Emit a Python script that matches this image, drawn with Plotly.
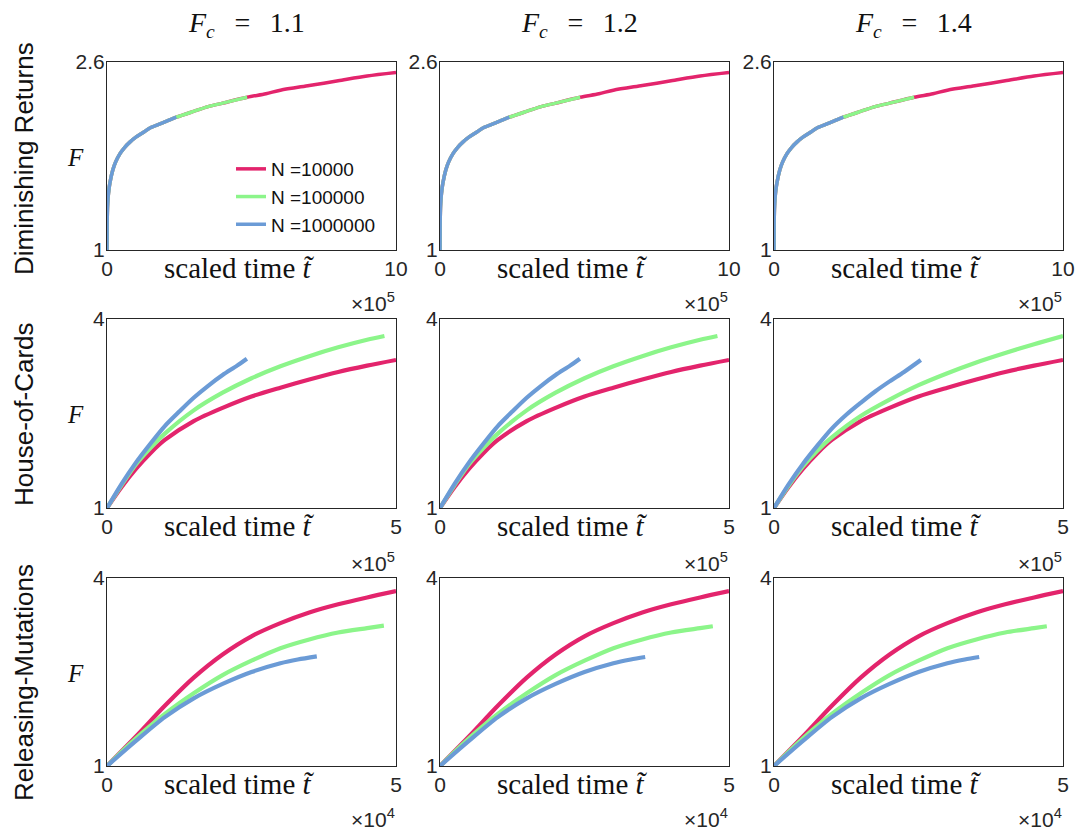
import plotly.graph_objects as go

# ---------------- data (scaled time in units of the axis exponent) ----------------
FC_LABELS = ["1.1", "1.2", "1.4"]
ROW_NAMES = ["Diminishing Returns", "House-of-Cards", "Releasing-Mutations"]
SERIES_NAMES = ["N =10000", "N =100000", "N =1000000"]
X_MAX = [10, 5, 5]
Y_MAX = [2.6, 4, 4]
X_TICKTEXT = [["0", "10"], ["0", "5"], ["0", "5"]]
Y_TICKTEXT = [["1", "2.6"], ["1", "4"], ["1", "4"]]
X_EXPONENT = ["5", "5", "4"]

# Diminishing Returns (same in all three columns)
DR_T_N1 = [0, 0.005, 0.02, 0.05, 0.1, 0.2, 0.3, 0.45, 0.6, 0.8, 1.0, 1.25, 1.5, 2.0, 2.4, 3.0, 3.5, 4.0, 4.85, 5.5, 6.0, 7.0, 8.0, 9.0, 10.0]
DR_F_N1 = [1.0, 1.22, 1.38, 1.48, 1.57, 1.68, 1.75, 1.82, 1.87, 1.92, 1.96, 2.00, 2.04, 2.09, 2.13, 2.18, 2.22, 2.25, 2.30, 2.33, 2.36, 2.40, 2.44, 2.48, 2.51]
DR_T_N2 = [0, 0.005, 0.02, 0.05, 0.1, 0.2, 0.3, 0.45, 0.6, 0.8, 1.0, 1.25, 1.5, 2.0, 2.4, 3.0, 3.5, 4.0, 4.85]
DR_F_N2 = [1.0, 1.22, 1.38, 1.48, 1.57, 1.68, 1.75, 1.82, 1.87, 1.92, 1.96, 2.00, 2.04, 2.09, 2.13, 2.18, 2.22, 2.25, 2.30]
DR_T_N3 = [0, 0.005, 0.02, 0.05, 0.1, 0.2, 0.3, 0.45, 0.6, 0.8, 1.0, 1.25, 1.5, 2.0, 2.4]
DR_F_N3 = [1.0, 1.22, 1.38, 1.48, 1.57, 1.68, 1.75, 1.82, 1.87, 1.92, 1.96, 2.00, 2.04, 2.09, 2.13]

# House-of-Cards, columns 1 and 2
HC_T_N1 = [0, 0.25, 0.5, 0.75, 1.0, 1.5, 2.0, 2.5, 3.0, 3.5, 4.0, 4.5, 5.0]
HC_F_N1 = [1.0, 1.33, 1.62, 1.87, 2.08, 2.38, 2.59, 2.77, 2.91, 3.04, 3.16, 3.26, 3.35]
HC_T_N2 = [0, 0.25, 0.5, 0.75, 1.0, 1.5, 2.0, 2.5, 3.0, 3.5, 4.0, 4.5, 4.8]
HC_F_N2 = [1.0, 1.36, 1.69, 1.95, 2.18, 2.55, 2.83, 3.06, 3.25, 3.41, 3.55, 3.67, 3.73]
HC_T_N3 = [0, 0.25, 0.5, 0.75, 1.0, 1.25, 1.5, 1.75, 2.0, 2.25, 2.42]
HC_F_N3 = [1.0, 1.38, 1.72, 2.02, 2.30, 2.53, 2.75, 2.94, 3.11, 3.26, 3.37]
# House-of-Cards, column 3
HC3_T_N2 = [0, 0.25, 0.5, 0.75, 1.0, 1.5, 2.0, 2.5, 3.0, 3.5, 4.0, 4.5, 5.0]
HC3_F_N2 = [1.0, 1.35, 1.66, 1.91, 2.12, 2.46, 2.72, 2.95, 3.14, 3.31, 3.46, 3.60, 3.73]
HC3_T_N3 = [0, 0.25, 0.5, 0.75, 1.0, 1.25, 1.5, 1.75, 2.0, 2.25, 2.54]
HC3_F_N3 = [1.0, 1.37, 1.70, 1.99, 2.26, 2.48, 2.67, 2.85, 3.01, 3.16, 3.35]

# Releasing-Mutations, column 1
RM_T_N1 = [0, 0.5, 1.0, 1.5, 2.0, 2.5, 3.0, 3.5, 4.0, 4.5, 5.0]
RM_F_N1 = [1.0, 1.47, 1.96, 2.41, 2.78, 3.07, 3.28, 3.45, 3.58, 3.69, 3.79]
RM_T_N2 = [0, 0.5, 1.0, 1.5, 2.0, 2.5, 3.0, 3.5, 4.0, 4.5, 4.79]
RM_F_N2 = [1.0, 1.44, 1.83, 2.16, 2.45, 2.68, 2.88, 3.02, 3.13, 3.20, 3.24]
RM_T_N3 = [0, 0.5, 1.0, 1.5, 2.0, 2.5, 3.0, 3.3, 3.63]
RM_F_N3 = [1.0, 1.40, 1.78, 2.08, 2.31, 2.50, 2.64, 2.70, 2.75]
# Releasing-Mutations, columns 2 and 3
RM23_T_N2 = [0, 0.5, 1.0, 1.5, 2.0, 2.5, 3.0, 3.5, 4.0, 4.5, 4.72]
RM23_F_N2 = [1.0, 1.44, 1.83, 2.16, 2.45, 2.68, 2.88, 3.02, 3.13, 3.20, 3.23]
RM23_T_N3 = [0, 0.5, 1.0, 1.5, 2.0, 2.5, 3.0, 3.3, 3.55]
RM23_F_N3 = [1.0, 1.40, 1.78, 2.08, 2.31, 2.50, 2.64, 2.70, 2.74]

# ---------------- styling / layout ----------------
COLORS = ["#E3246C", "#8CF58A", "#6B9BD6"]
W, H = 1076, 831
COL_PX = [(107, 396), (440, 729), (774, 1063)]
ROW_PX = [(62, 250), (319, 508), (578, 766)]
LINE_W = [3.5, 4.2, 4.2]
SANS = "Liberation Sans, Arial, Helvetica, sans-serif"
SERIF = "Liberation Serif, Times New Roman, serif"
AXC = "#262626"

panel_data = {
    0: [[(DR_T_N1, DR_F_N1), (DR_T_N2, DR_F_N2), (DR_T_N3, DR_F_N3)]] * 3,
    1: [[(HC_T_N1, HC_F_N1), (HC_T_N2, HC_F_N2), (HC_T_N3, HC_F_N3)],
        [(HC_T_N1, HC_F_N1), (HC_T_N2, HC_F_N2), (HC_T_N3, HC_F_N3)],
        [(HC_T_N1, HC_F_N1), (HC3_T_N2, HC3_F_N2), (HC3_T_N3, HC3_F_N3)]],
    2: [[(RM_T_N1, RM_F_N1), (RM_T_N2, RM_F_N2), (RM_T_N3, RM_F_N3)],
        [(RM_T_N1, RM_F_N1), (RM23_T_N2, RM23_F_N2), (RM23_T_N3, RM23_F_N3)],
        [(RM_T_N1, RM_F_N1), (RM23_T_N2, RM23_F_N2), (RM23_T_N3, RM23_F_N3)]],
}

fig = go.Figure()
layout = dict(
    width=W, height=H, autosize=False,
    margin=dict(l=0, r=0, t=0, b=0, pad=0, autoexpand=False),
    paper_bgcolor="white", plot_bgcolor="white",
    showlegend=True,
    legend=dict(x=231 / W, y=1 - 150 / H, xanchor="left", yanchor="top",
                bgcolor="rgba(0,0,0,0)", borderwidth=0,
                font=dict(family=SANS, size=19, color="#111"),
                tracegroupgap=0, itemwidth=30),
)
annotations = []

k = 0
for r in range(3):
    for c in range(3):
        k += 1
        xa = "x" if k == 1 else f"x{k}"
        ya = "y" if k == 1 else f"y{k}"
        x0, x1 = COL_PX[c]
        y0, y1 = ROW_PX[r]
        layout["xaxis" if k == 1 else f"xaxis{k}"] = dict(
            domain=[x0 / W, x1 / W], anchor=ya, range=[0, X_MAX[r]],
            showgrid=False, zeroline=False, showline=True, mirror=True,
            linecolor=AXC, linewidth=1, ticks="", automargin=False,
            tickvals=[0, X_MAX[r]], ticktext=X_TICKTEXT[r],
            tickfont=dict(family=SANS, size=21, color=AXC), fixedrange=True)
        layout["yaxis" if k == 1 else f"yaxis{k}"] = dict(
            domain=[1 - y1 / H, 1 - y0 / H], anchor=xa, range=[1, Y_MAX[r]],
            showgrid=False, zeroline=False, showline=True, mirror=True,
            linecolor=AXC, linewidth=1, ticks="", automargin=False,
            ticklabelstandoff=-3,
            tickvals=[1, Y_MAX[r]], ticktext=Y_TICKTEXT[r],
            tickfont=dict(family=SANS, size=21, color=AXC), fixedrange=True)
        for s, (tt, ff) in enumerate(panel_data[r][c]):
            fig.add_trace(go.Scatter(
                x=tt, y=ff, mode="lines", xaxis=xa, yaxis=ya,
                line=dict(color=COLORS[s], width=LINE_W[r], shape="spline", smoothing=0.8),
                name=SERIES_NAMES[s], legendgroup=f"g{s}",
                showlegend=(k == 1), hoverinfo="skip"))
        # x label
        cx = (x0 + x1) / 2 - 12
        annotations.append(dict(
            text="scaled time <i>t\u0303</i>", x=cx / W, y=1 - (y1 + 18) / H,
            xref="paper", yref="paper", xanchor="center", yanchor="middle",
            showarrow=False, font=dict(family=SERIF, size=29, color="#111")))
        # exponent
        ey = [302, 562, 818][r]
        annotations.append(dict(
            text=f"\u00d710<sup>{X_EXPONENT[r]}</sup>", x=(x1 + 1) / W, y=1 - ey / H,
            xref="paper", yref="paper", xanchor="right", yanchor="middle",
            showarrow=False, font=dict(family=SANS, size=21, color=AXC)))
        # y label F
        if c == 0:
            annotations.append(dict(
                text="<i>F</i>", x=75 / W, y=1 - ((y0 + y1) / 2 + 1) / H,
                xref="paper", yref="paper", xanchor="center", yanchor="middle",
                showarrow=False, font=dict(family=SERIF, size=25, color="#111")))

# column titles
for c in range(3):
    x0, x1 = COL_PX[c]
    annotations.append(dict(
        text=f"<i>F</i><sub><i>c</i></sub>\u2002\u2009=\u2002\u2009{FC_LABELS[c]}",
        x=((x0 + x1) / 2 - 5) / W, y=1 - 25 / H, xref="paper", yref="paper",
        xanchor="center", yanchor="middle", showarrow=False,
        font=dict(family=SERIF, size=28, color="#111")))

# row labels
for r in range(3):
    yc = [159, 414, 683][r]
    annotations.append(dict(
        text=ROW_NAMES[r], x=24 / W, y=1 - yc / H, xref="paper", yref="paper",
        xanchor="center", yanchor="middle", textangle=-90, showarrow=False,
        font=dict(family=SANS, size=26, color="#111")))

layout["annotations"] = annotations
fig.update_layout(**layout)
fig.write_html("out.html", config={"displayModeBar": False},
               post_script="document.body.style.margin='0px';document.body.style.overflow='hidden';")
